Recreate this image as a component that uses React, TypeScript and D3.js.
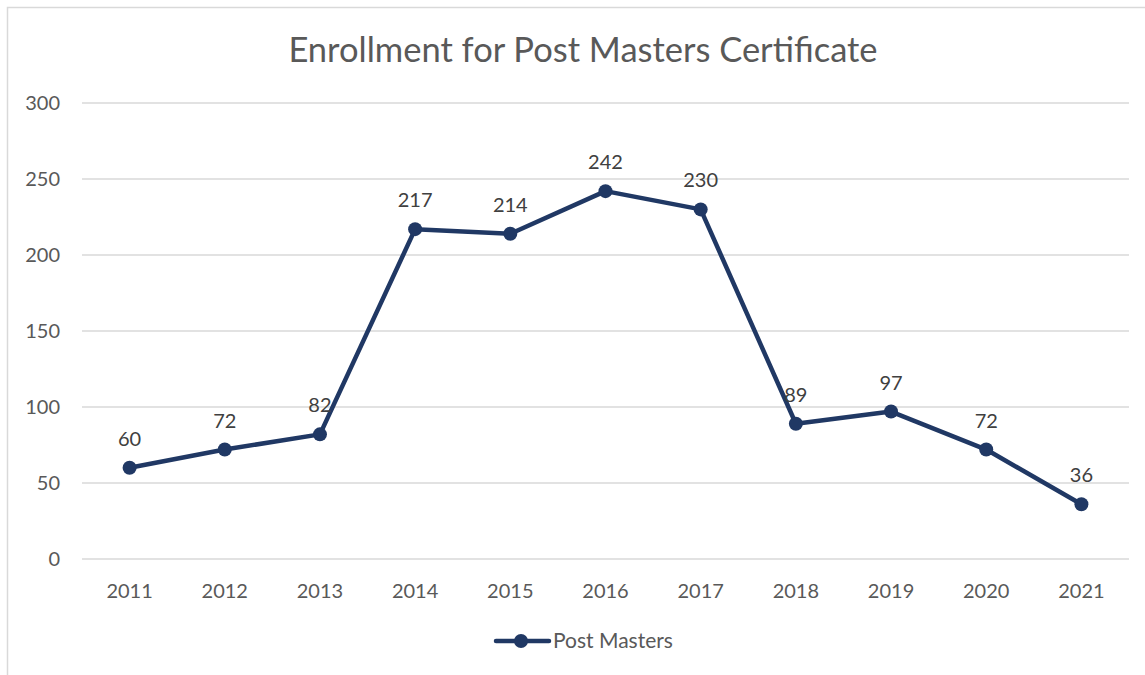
import React from "react";
import * as d3 from "d3";

const years = ["2011","2012","2013","2014","2015","2016","2017","2018","2019","2020","2021"];
const enrollment = [60, 72, 82, 217, 214, 242, 230, 89, 97, 72, 36];
const yTicks = [0, 50, 100, 150, 200, 250, 300];
const seriesName = "Post Masters";
const title = "Enrollment for Post Masters Certificate";

export default function App() {
  const W = 1145, H = 675;
  const font = "Lato, 'Open Sans', sans-serif";
  const lineColor = "#203864";
  const x = d3.scaleBand().domain(years).range([82, 1129]);
  const y = d3.scaleLinear().domain([0, 300]).range([559, 103]);
  const cx = (d: string) => (x(d) as number) + x.bandwidth() / 2;
  const line = d3.line<number>().x((_, i) => cx(years[i])).y((d) => y(d));
  return (
    <svg width={W} height={H} style={{ position: "absolute", left: 0, top: 0 }}>
      <rect x={0} y={0} width={W} height={H} fill="#fff" />
      <path d={`M7.5,${H} V7.5 H${W}`} fill="none" stroke="#d9d9d9" strokeWidth={1.5} />
      <text x={583} y={62} textAnchor="middle" fontFamily={font} fontSize={34.5} fill="#595959">{title}</text>
      {yTicks.map((t) => (
        <g key={t}>
          <line x1={82} x2={1129} y1={y(t)} y2={y(t)} stroke="#d9d9d9" strokeWidth={1.5} />
          <text x={60} y={y(t) + 7} textAnchor="end" fontFamily={font} fontSize={20} fill="#595959">{t}</text>
        </g>
      ))}
      {years.map((yr) => (
        <text key={yr} x={cx(yr)} y={598} textAnchor="middle" fontFamily={font} fontSize={20} fill="#595959">{yr}</text>
      ))}
      <path d={line(enrollment) || ""} fill="none" stroke={lineColor} strokeWidth={4.5} strokeLinejoin="round" strokeLinecap="round" />
      {enrollment.map((v, i) => (
        <g key={i}>
          <circle cx={cx(years[i])} cy={y(v)} r={7} fill={lineColor} />
          <text x={cx(years[i])} y={y(v) - 22} textAnchor="middle" fontFamily={font} fontSize={20} fill="#404040">{v}</text>
        </g>
      ))}
      <line x1={496} x2={549} y1={641} y2={641} stroke={lineColor} strokeWidth={4.5} strokeLinecap="round" />
      <circle cx={521} cy={641} r={7} fill={lineColor} />
      <text x={553} y={648} fontFamily={font} fontSize={21} fill="#595959">{seriesName}</text>
    </svg>
  );
}
